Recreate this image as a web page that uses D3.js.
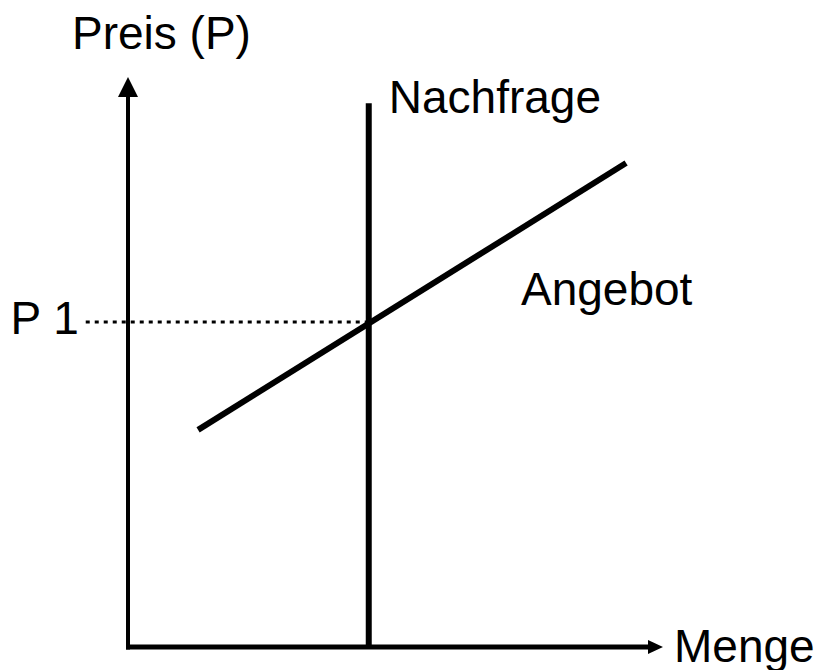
<!DOCTYPE html>
<html>
<head>
<meta charset="utf-8">
<script src="https://cdn.jsdelivr.net/npm/d3@7"></script>
<style>
  html, body { margin: 0; padding: 0; background: #fff; }
  svg text { font-family: "Liberation Sans", Arial, sans-serif; font-size: 46px; fill: #000; }
</style>
</head>
<body>
<div class="chart-box"></div>
<script>
/**
 * Values of the diagram (quantity / price in arbitrary units 0..100)
 */
const axisLabels = ['Preis (P)', 'Menge'];
const curveLabels = ['Nachfrage', 'Angebot'];
const priceTickLabels = ['P 1'];
const priceTicks = [57.0];
const demandQuantity = [45.0];
const demandPrice = [0, 95.4];
const supplyQuantity = [13.1, 93.1];
const supplyPrice = [38.1, 84.9];
const guideStart = [-7.9];

/**
 * Drawing area
 */
const VIEWBOX = { width: 825, height: 670 };
const ORIGIN = { x: 128, y: 647 };
const AXIS_END = { x: 663, y: 77 };

let svg = d3.select('.chart-box')
  .append('svg')
    .attr('width', VIEWBOX.width)
    .attr('height', VIEWBOX.height)
    .attr('viewBox', '0 0 ' + VIEWBOX.width + ' ' + VIEWBOX.height);

let xscale = d3.scaleLinear().domain([0, 100]).range([ORIGIN.x, AXIS_END.x]);
let yscale = d3.scaleLinear().domain([0, 100]).range([ORIGIN.y, AXIS_END.y]);

// axes with arrow heads
let axes = svg.append('g').attr('class', 'axes');

axes.append('line')
  .attr('x1', xscale(0)).attr('y1', yscale(0) + 2.5)
  .attr('x2', xscale(0)).attr('y2', yscale(100) + 19)
  .attr('stroke', '#000')
  .attr('stroke-width', 4);

axes.append('path')
  .attr('d', d3.line()([[xscale(0), yscale(100)], [xscale(0) - 10, yscale(100) + 20], [xscale(0) + 10, yscale(100) + 20]]) + 'Z')
  .attr('fill', '#000');

axes.append('line')
  .attr('x1', xscale(0) - 2).attr('y1', yscale(0))
  .attr('x2', xscale(100) - 14).attr('y2', yscale(0))
  .attr('stroke', '#000')
  .attr('stroke-width', 5);

axes.append('path')
  .attr('d', d3.line()([[xscale(100), yscale(0)], [xscale(100) - 15, yscale(0) - 7], [xscale(100) - 15, yscale(0) + 7]]) + 'Z')
  .attr('fill', '#000');

// dotted guide for the equilibrium price
svg.selectAll('.guide')
  .data(priceTicks)
  .enter().append('line')
    .attr('class', 'guide')
    .attr('x1', xscale(guideStart[0]))
    .attr('x2', xscale(demandQuantity[0]))
    .attr('y1', d => yscale(d))
    .attr('y2', d => yscale(d))
    .attr('stroke', '#000')
    .attr('stroke-width', 3)
    .attr('stroke-dasharray', '4,5');

// demand curve (vertical)
svg.append('path')
  .datum(demandPrice.map(p => ({ q: demandQuantity[0], p: p })))
  .attr('class', 'demand')
  .attr('fill', 'none')
  .attr('stroke', '#000')
  .attr('stroke-width', 6)
  .attr('d', d3.line().x(d => xscale(d.q)).y(d => yscale(d.p)));

// supply curve
svg.append('path')
  .datum(supplyQuantity.map((q, i) => ({ q: q, p: supplyPrice[i] })))
  .attr('class', 'supply')
  .attr('fill', 'none')
  .attr('stroke', '#000')
  .attr('stroke-width', 6)
  .attr('d', d3.line().x(d => xscale(d.q)).y(d => yscale(d.p)));

// labels
svg.append('text')
  .attr('x', xscale(0) - 56)
  .attr('y', 49)
  .text(axisLabels[0]);

svg.append('text')
  .attr('x', xscale(100) + 11)
  .attr('y', yscale(0) + 15)
  .text(axisLabels[1]);

svg.append('text')
  .attr('x', xscale(demandQuantity[0]) + 20)
  .attr('y', yscale(demandPrice[1]) + 10)
  .text(curveLabels[0]);

svg.append('text')
  .attr('x', 521)
  .attr('y', 305)
  .text(curveLabels[1]);

svg.selectAll('.tick-label')
  .data(priceTicks)
  .enter().append('text')
    .attr('class', 'tick-label')
    .attr('x', 10.5)
    .attr('y', d => yscale(d) + 12)
    .text((d, i) => priceTickLabels[i]);
</script>
</body>
</html>
